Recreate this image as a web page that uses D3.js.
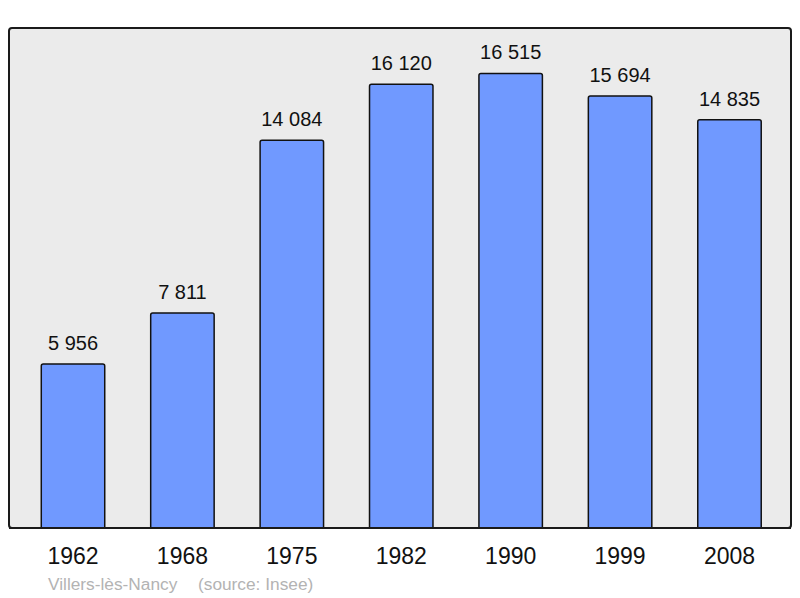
<!DOCTYPE html>
<html><head><meta charset="utf-8">
<script src="https://cdn.jsdelivr.net/npm/d3@7"></script>
<style>body{margin:0;background:#fff}svg{display:block}</style>
</head><body>
<script>
const years = ["1962","1968","1975","1982","1990","1999","2008"];
const population = [5956, 7811, 14084, 16120, 16515, 15694, 14835];
const placeName = "Villers-lès-Nancy";
const sourceText = "(source: Insee)";

const W = 800, H = 598;
const svg = d3.select("body").append("svg").attr("width", W).attr("height", H);
const fmt = v => d3.format(",")(v).replace(/,/g, " ");
const FONT = "Liberation Sans, Arial, sans-serif";

const frame = {x: 9, y: 28, w: 782, h: 500};
svg.append("rect").attr("x", frame.x).attr("y", frame.y).attr("width", frame.w).attr("height", frame.h)
  .attr("rx", 3).attr("fill", "#ebebeb").attr("stroke", "#1a1a1a").attr("stroke-width", 2);

svg.append("defs").append("clipPath").attr("id", "plotclip").append("rect")
  .attr("x", frame.x).attr("y", 0).attr("width", frame.w).attr("height", frame.y + frame.h);

const x = d3.scaleBand().domain(years).range([18.3, 784.2]).paddingInner(0.42).paddingOuter(0.21);
const y = d3.scaleLinear().domain([0, d3.max(population) * 1.1]).range([frame.y + frame.h, frame.y]);

const g = svg.append("g").attr("clip-path", "url(#plotclip)");
g.selectAll("rect.bar").data(years).join("rect").attr("class", "bar")
  .attr("x", d => x(d)).attr("width", x.bandwidth())
  .attr("y", (d, i) => y(population[i])).attr("height", (d, i) => y(0) - y(population[i]) + 6)
  .attr("rx", 2).attr("fill", "#7099ff").attr("stroke", "#111").attr("stroke-width", 1.5);

svg.append("line").attr("x1", frame.x).attr("x2", frame.x + frame.w).attr("y1", frame.y + frame.h).attr("y2", frame.y + frame.h)
  .attr("stroke", "#1a1a1a").attr("stroke-width", 2);

svg.selectAll("text.val").data(years).join("text").attr("class", "val")
  .attr("x", d => x(d) + x.bandwidth() / 2).attr("y", (d, i) => y(population[i]) - 14)
  .attr("text-anchor", "middle").attr("font-family", FONT)
  .attr("font-size", 20).attr("fill", "#111").text((d, i) => fmt(population[i]));

const xAxis = d3.axisBottom(x).tickSize(0).tickPadding(0);
const ax = svg.append("g").attr("transform", `translate(0,${frame.y + frame.h})`).call(xAxis);
ax.select(".domain").remove();
ax.selectAll("text").attr("font-family", FONT).attr("font-size", 23)
  .attr("fill", "#111").attr("dy", null).attr("y", 36);

svg.append("text").attr("x", 48).attr("y", 590).attr("font-family", FONT)
  .attr("font-size", 17.3).attr("fill", "#b3b3b3").text(placeName);
svg.append("text").attr("x", 198).attr("y", 590).attr("font-family", FONT)
  .attr("font-size", 17.3).attr("fill", "#b3b3b3").text(sourceText);
</script>
</body></html>
